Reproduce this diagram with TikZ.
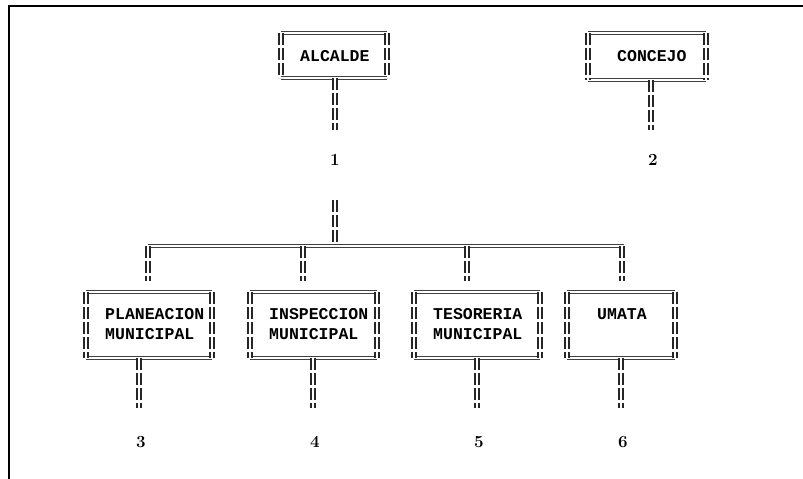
\documentclass[tikz,border=0pt]{standalone}
\usepackage{fontspec}
\setmonofont{Liberation Mono}
\usetikzlibrary{positioning}

\begin{document}
\begin{tikzpicture}[x=1pt, y=-1pt,
        hbar/.style={double, double distance=1.4pt, line width=1.3pt, draw=black!75},
        vbar/.style={double, double distance=1.5pt, line width=1.8pt, draw=black!85, dash pattern=on 12pt off 3pt},
        box/.style={inner sep=0pt, outer sep=0pt},
        txt/.style={font=\fontsize{16.5}{20}\selectfont\ttfamily\bfseries, anchor=north west, align=left, inner sep=0pt},
        num/.style={font=\fontsize{17}{19}\selectfont\bfseries, inner sep=0pt}]
        % Rahmen
        \useasboundingbox (0,0) rectangle (803,479);
        \draw[line width=2pt] (9,479) -- (9,6) -- (803,6);
        % obere Kaesten
        \node[box, minimum width=106, minimum height=45] (alc) at (334,55.5) {};
        \node[box, minimum width=118, minimum height=47] (con) at (647,56.5) {};
        \node[txt] (alct) at (300,50.3) {ALCALDE};
        \node[txt] (cont) at (617,50.3) {CONCEJO};
        % untere Kaesten
        \foreach \name/\cx/\w/\tx/\txt in {plan/149/126/105/{PLANEACION\\MUNICIPAL},
                insp/313.5/127/269/{INSPECCION\\MUNICIPAL},
                teso/477/126/433/{TESORERIA\\MUNICIPAL},
                umata/621/108/597/{UMATA}}
        {
            \node[box, minimum width=\w, minimum height=66] (\name) at (\cx,325) {};
            \node[txt] (\name t) at (\tx,308.3) {\txt};
        }
        % Raender
        \foreach \b in {alc,con,plan,insp,teso,umata}
        {
            \draw[hbar] (\b.north west) -- (\b.north east);
            \draw[hbar] (\b.south west) -- (\b.south east);
            \draw[vbar] (\b.north west) -- (\b.south west);
            \draw[vbar] (\b.north east) -- (\b.south east);
        }
        % Nummern oben
        \node[num] (n1) at (335,160) {1};
        \node[num] (n2) at (653,160) {2};
        \draw[vbar] (alc.south -| 335,0) -- (335,130 -| n1);
        \draw[vbar] (con.south -| 651,0) -- (651,130);
        % Verteiler
        \coordinate (j0) at (335,200);
        \coordinate (j1) at (335,246);
        \draw[vbar] (j0) -- (j1);
        \coordinate (bl) at (148,246);
        \coordinate (br) at (624,246);
        \draw[hbar] (bl) -- (br);
        \foreach \dx in {148,303,467,622}
            \draw[vbar] (\dx,246) -- (\dx,281);
        % Nummern unten
        \foreach \name/\sx/\k in {plan/139/3, insp/313/4, teso/477/5, umata/621/6}
        {
            \node[num] (n\k) at (\sx+2,442) {\k};
            \draw[vbar] (\name.south -| \sx,0) -- (\sx,408);
        }
\end{tikzpicture}
\end{document}
